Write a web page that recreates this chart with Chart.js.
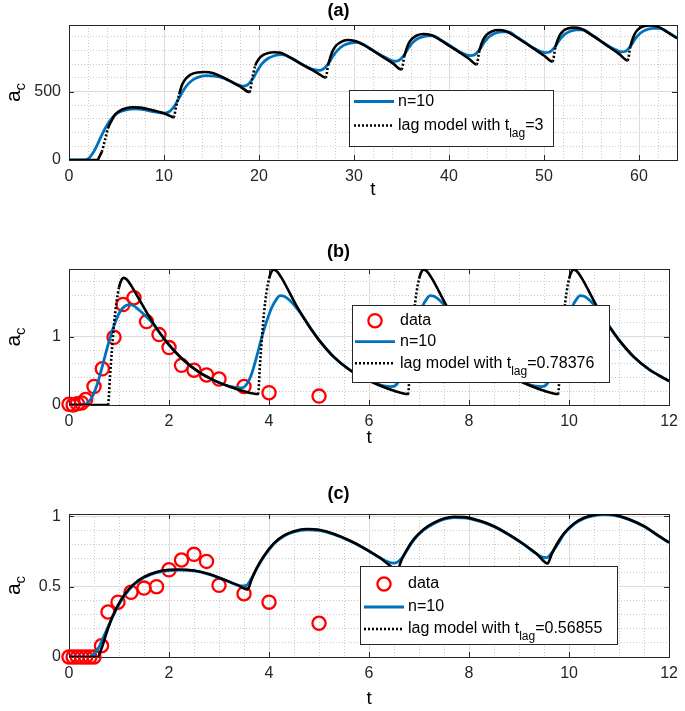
<!DOCTYPE html>
<html><head><meta charset="utf-8">
<script src="https://cdn.jsdelivr.net/npm/chart.js@4/dist/chart.umd.min.js"></script>
<style>
body{margin:0;background:#fff;}
#wrap{position:relative;width:685px;height:711px;overflow:hidden;background:#fff;}
canvas{position:absolute;left:0;}
</style></head><body>
<div id="wrap">
<canvas id="ca" width="685" height="202" style="top:0px"></canvas>
<canvas id="cb" width="685" height="210" style="top:241px"></canvas>
<canvas id="cc" width="685" height="228" style="top:483px"></canvas>
</div>
<script>
// ---------- Panel (a) ----------
const xTicksA = [0, 10, 20, 30, 40, 50, 60];
const yTicksA = [0, 500];
const tA_lag = [
 0, 3.0, 3.2, 3.45, 3.8, 4.1, 4.5, 4.8, 5.3, 6.0, 6.7, 7.5, 8.5, 9.5, 10.3, 11.0,
 11.3, 11.6, 11.9, 12.3, 12.8, 13.5, 14.3, 15.2, 16.2, 17.2, 18.1, 19.0,
 19.3, 19.6, 20.0, 20.5, 21.0, 21.6, 22.3, 23.3, 24.3, 25.3, 26.2, 27.0,
 27.3, 27.7, 28.1, 28.6, 29.3, 30.1, 31.1, 32.1, 33.1, 34.1, 35.0,
 35.3, 35.7, 36.1, 36.6, 37.3, 38.1, 39.1, 40.1, 41.1, 42.1, 42.9,
 43.2, 43.6, 44.0, 44.5, 45.2, 46.0, 47.0, 48.0, 49.0, 50.0, 50.9,
 51.2, 51.6, 52.0, 52.5, 53.1, 53.9, 54.9, 55.9, 56.9, 57.9, 58.8,
 59.1, 59.5, 59.9, 60.5, 61.2, 62.0, 63.0, 64.0];
const aA_lag = [
 0, 0, 25, 60, 150, 230, 290, 329, 358, 378, 386, 383, 370, 351, 333, 312,
 400, 480, 550, 595, 625, 640, 643, 634, 604, 568, 533, 497,
 600, 690, 740, 770, 783, 788, 784, 748, 708, 669, 634, 602,
 700, 790, 835, 862, 877, 870, 838, 795, 751, 706, 662,
 760, 845, 885, 910, 921, 914, 876, 832, 787, 740, 698,
 800, 880, 918, 940, 950, 942, 902, 857, 811, 764, 720,
 825, 905, 942, 962, 968, 960, 918, 872, 824, 776, 728,
 832, 915, 955, 978, 984, 975, 934, 890];
const tA_n10 = [
 0, 1.5, 2.0, 2.5, 3.0, 3.5, 4.0, 4.5, 5.0, 5.6, 6.3, 7.0, 8.0, 9.0, 9.6, 10.1,
 10.6, 11.1, 11.6, 12.1, 12.6, 13.2, 13.8, 14.5, 15.3, 16.2, 17.2, 17.8, 18.3,
 18.8, 19.3, 19.8, 20.3, 20.9, 21.6, 22.4, 23.3, 24.3, 25.3, 25.8, 26.3,
 26.8, 27.3, 27.8, 28.3, 28.9, 29.6, 30.4, 31.1, 32.1, 33.1, 33.7, 34.2,
 34.7, 35.2, 35.7, 36.2, 36.8, 37.5, 38.3, 39.1, 40.1, 41.1, 41.7, 42.2,
 42.7, 43.2, 43.7, 44.2, 44.8, 45.5, 46.3, 47.0, 48.0, 49.0, 49.6, 50.1,
 50.6, 51.1, 51.6, 52.1, 52.7, 53.4, 54.2, 54.9, 55.9, 56.9, 57.6, 58.1,
 58.6, 59.1, 59.6, 60.1, 60.7, 61.4, 62.2, 63.0, 64.0];
const aA_n10 = [
 0, 0, 8, 50, 115, 190, 255, 305, 338, 358, 370, 374, 366, 352, 345, 342,
 355, 395, 455, 515, 560, 593, 610, 617, 613, 600, 568, 550, 540,
 550, 590, 650, 703, 740, 762, 770, 750, 708, 672, 660, 655,
 667, 705, 760, 805, 838, 855, 860, 840, 797, 756, 735, 722,
 728, 760, 815, 860, 890, 906, 910, 880, 835, 792, 772, 763,
 770, 805, 860, 900, 925, 936, 937, 906, 860, 815, 795, 785,
 790, 822, 875, 915, 940, 952, 952, 921, 875, 828, 805, 790,
 795, 832, 885, 925, 950, 962, 962, 936, 892];

// ---------- Panel (b) ----------
const xTicksB = [0, 2, 4, 6, 8, 10, 12];
const yTicksB = [0, 1];
const tB_data = [0, 0.083, 0.167, 0.25, 0.333, 0.5, 0.667, 0.9, 1.08, 1.3, 1.55, 1.8, 2.0, 2.25, 2.5, 2.75, 3.0, 3.5, 4.0, 5.0];
const aB_data = [0.01, 0.0, 0.02, 0.03, 0.08, 0.27, 0.53, 0.99, 1.47, 1.57, 1.22, 1.03, 0.84, 0.58, 0.51, 0.44, 0.38, 0.27, 0.18, 0.13];
const tB_n10 = [
 0, 0.25, 0.35, 0.45, 0.55, 0.65, 0.75, 0.85, 0.95, 1.05, 1.15, 1.22, 1.3, 1.4, 1.55, 1.7, 1.85, 2.0, 2.3, 2.6, 2.9, 3.1, 3.3, 3.45,
 3.55, 3.65, 3.75, 3.85, 3.95, 4.05, 4.15, 4.22, 4.3, 4.4, 4.55, 4.7, 4.85, 5.0, 5.3, 5.6, 5.9, 6.1, 6.3, 6.45,
 6.55, 6.65, 6.75, 6.85, 6.95, 7.05, 7.15, 7.22, 7.3, 7.4, 7.55, 7.7, 7.85, 8.0, 8.3, 8.6, 8.9, 9.1, 9.3, 9.45,
 9.55, 9.65, 9.75, 9.85, 9.95, 10.05, 10.15, 10.22, 10.3, 10.4, 10.55, 10.7, 10.85, 11.0, 11.3, 11.6, 11.9, 12.0];
const aB_n10 = [
 0, 0, 0.02, 0.1, 0.27, 0.52, 0.8, 1.05, 1.26, 1.4, 1.46, 1.47, 1.45, 1.39, 1.29, 1.17, 1.02, 0.88, 0.65, 0.48, 0.36, 0.3, 0.26, 0.25,
 0.3, 0.45, 0.7, 0.98, 1.22, 1.42, 1.55, 1.6, 1.59, 1.54, 1.42, 1.27, 1.1, 0.95, 0.70, 0.52, 0.39, 0.33, 0.28, 0.27,
 0.3, 0.45, 0.7, 0.98, 1.22, 1.42, 1.55, 1.6, 1.59, 1.54, 1.42, 1.27, 1.1, 0.95, 0.70, 0.52, 0.39, 0.33, 0.28, 0.27,
 0.3, 0.45, 0.7, 0.98, 1.22, 1.42, 1.55, 1.6, 1.59, 1.54, 1.42, 1.27, 1.1, 0.95, 0.70, 0.52, 0.39, 0.35];
const tB_lag = [
 0, 0.78, 0.82, 0.86, 0.9, 0.95, 1.0, 1.05, 1.09, 1.15, 1.25, 1.4, 1.55, 1.7, 1.85, 2.0, 2.3, 2.6, 2.9, 3.2, 3.5, 3.78,
 3.82, 3.86, 3.9, 3.95, 4.0, 4.05, 4.09, 4.15, 4.25, 4.4, 4.55, 4.7, 4.85, 5.0, 5.3, 5.6, 5.9, 6.2, 6.5, 6.78,
 6.82, 6.86, 6.9, 6.95, 7.0, 7.05, 7.09, 7.15, 7.25, 7.4, 7.55, 7.7, 7.85, 8.0, 8.3, 8.6, 8.9, 9.2, 9.5, 9.78,
 9.82, 9.86, 9.9, 9.95, 10.0, 10.05, 10.09, 10.15, 10.25, 10.4, 10.55, 10.7, 10.85, 11.0, 11.3, 11.6, 11.9, 12.0];
const aB_lag = [
 0, 0, 0.42, 0.82, 1.18, 1.5, 1.72, 1.83, 1.86, 1.84, 1.74, 1.55, 1.36, 1.18, 1.02, 0.88, 0.65, 0.48, 0.36, 0.27, 0.2, 0.16,
 0.6, 1.0, 1.35, 1.65, 1.85, 1.95, 1.98, 1.96, 1.86, 1.66, 1.45, 1.27, 1.1, 0.95, 0.70, 0.52, 0.39, 0.29, 0.21, 0.16,
 0.6, 1.0, 1.35, 1.65, 1.85, 1.95, 1.98, 1.96, 1.86, 1.66, 1.45, 1.27, 1.1, 0.95, 0.70, 0.52, 0.39, 0.29, 0.21, 0.16,
 0.6, 1.0, 1.35, 1.65, 1.85, 1.95, 1.98, 1.96, 1.86, 1.66, 1.45, 1.27, 1.1, 0.95, 0.70, 0.52, 0.39, 0.35];

// ---------- Panel (c) ----------
const xTicksC = [0, 2, 4, 6, 8, 10, 12];
const yTicksC = [0, 0.5, 1];
const tC_data = [0, 0.083, 0.167, 0.25, 0.333, 0.417, 0.5, 0.65, 0.78, 0.98, 1.24, 1.5, 1.75, 2.0, 2.25, 2.5, 2.75, 3.0, 3.5, 4.0, 5.0];
const aC_data = [0, 0, 0, 0, 0, 0, 0, 0.08, 0.32, 0.39, 0.46, 0.49, 0.5, 0.62, 0.69, 0.73, 0.68, 0.51, 0.45, 0.39, 0.24];
const tC_n10 = [
 0, 0.4, 0.5, 0.6, 0.7, 0.8, 0.95, 1.1, 1.3, 1.5, 1.75, 2.0, 2.2, 2.5, 2.8, 3.1, 3.3, 3.45, 3.55, 3.65, 3.75,
 3.9, 4.1, 4.3, 4.5, 4.75, 5.0, 5.3, 5.6, 5.9, 6.2, 6.35, 6.47, 6.57, 6.67, 6.77,
 6.9, 7.1, 7.3, 7.5, 7.7, 7.9, 8.2, 8.5, 8.8, 9.1, 9.3, 9.45, 9.55, 9.65, 9.77,
 9.9, 10.1, 10.3, 10.5, 10.7, 10.9, 11.2, 11.5, 11.8, 12.0];
const aC_n10 = [
 0, 0, 0.02, 0.07, 0.15, 0.23, 0.34, 0.43, 0.515, 0.565, 0.6, 0.615, 0.618, 0.612, 0.588, 0.55, 0.52, 0.505, 0.51, 0.56, 0.625,
 0.715, 0.805, 0.86, 0.89, 0.905, 0.9, 0.872, 0.828, 0.773, 0.71, 0.68, 0.668, 0.675, 0.71, 0.765,
 0.835, 0.905, 0.95, 0.98, 0.992, 0.99, 0.966, 0.927, 0.868, 0.80, 0.745, 0.712, 0.707, 0.74, 0.80,
 0.875, 0.945, 0.985, 1.005, 1.012, 1.008, 0.977, 0.928, 0.858, 0.813];
const tC_lag = [
 0, 0.57, 0.65, 0.75, 0.85, 0.95, 1.1, 1.3, 1.5, 1.75, 2.0, 2.2, 2.5, 2.8, 3.1, 3.35, 3.57,
 3.65, 3.75, 3.9, 4.1, 4.3, 4.5, 4.75, 5.0, 5.3, 5.6, 5.9, 6.2, 6.57,
 6.65, 6.75, 6.9, 7.1, 7.3, 7.5, 7.7, 7.9, 8.2, 8.5, 8.8, 9.1, 9.35, 9.57,
 9.65, 9.75, 9.9, 10.1, 10.3, 10.5, 10.7, 10.9, 11.2, 11.5, 11.8, 12.0];
const aC_lag = [
 0, 0, 0.06, 0.17, 0.27, 0.35, 0.44, 0.52, 0.57, 0.605, 0.62, 0.622, 0.615, 0.59, 0.55, 0.515, 0.48,
 0.55, 0.63, 0.72, 0.81, 0.865, 0.895, 0.91, 0.905, 0.875, 0.83, 0.775, 0.71, 0.625,
 0.69, 0.76, 0.84, 0.91, 0.955, 0.985, 0.997, 0.995, 0.97, 0.93, 0.87, 0.80, 0.735, 0.665,
 0.73, 0.80, 0.88, 0.95, 0.99, 1.01, 1.017, 1.012, 0.98, 0.93, 0.86, 0.815];

// ---------- helpers ----------
const FONT = '"Liberation Sans", Arial, Helvetica, sans-serif';
const AX = '#262626';
const pts = (ts, as) => ts.map((t, i) => ({x: t, y: as[i]}));

function lagSet(d) {
  return {data: d, borderColor: '#000', borderWidth: 2.6, pointRadius: 0,
    cubicInterpolationMode: 'monotone', order: 0,
    segment: {borderDash: s => ((s.p0.y - s.p1.y) > 3.5 * Math.abs(s.p1.x - s.p0.x)) ? [2, 2] : undefined}};
}
function n10Set(d) {
  return {data: d, borderColor: '#0072bd', borderWidth: 2.8, pointRadius: 0,
    cubicInterpolationMode: 'monotone', order: 1};
}
function dataSet(d) {
  return {data: d, showLine: false, pointRadius: 6.6, pointBorderWidth: 2.3,
    pointBorderColor: '#ff0000', pointBackgroundColor: 'rgba(0,0,0,0)', borderColor: '#ff0000',
    order: 2, clip: false};
}

function drawLegend(ctx, L) {
  ctx.save();
  ctx.fillStyle = '#fff';
  ctx.fillRect(L.x, L.y, L.w, L.h);
  ctx.strokeStyle = AX; ctx.lineWidth = 1;
  ctx.strokeRect(L.x + 0.5, L.y + 0.5, L.w, L.h);
  L.rows.forEach(r => {
    const cy = r.y;
    if (r.kind === 'data') {
      ctx.strokeStyle = '#ff0000'; ctx.lineWidth = 2.3;
      ctx.beginPath(); ctx.arc((L.lx0 + L.lx1) / 2, cy, 6.6, 0, Math.PI * 2); ctx.stroke();
    } else if (r.kind === 'n10') {
      ctx.strokeStyle = '#0072bd'; ctx.lineWidth = 2.8; ctx.setLineDash([]);
      ctx.beginPath(); ctx.moveTo(L.lx0, cy); ctx.lineTo(L.lx1, cy); ctx.stroke();
    } else {
      ctx.strokeStyle = '#000'; ctx.lineWidth = 2.6; ctx.setLineDash([2, 2]);
      ctx.beginPath(); ctx.moveTo(L.lx0, cy); ctx.lineTo(L.lx1, cy); ctx.stroke();
      ctx.setLineDash([]);
    }
    ctx.fillStyle = '#000';
    ctx.textBaseline = 'middle'; ctx.textAlign = 'left';
    ctx.font = '16px ' + FONT;
    let x = L.tx;
    ctx.fillText(r.text, x, cy);
    if (r.sub) {
      x += ctx.measureText(r.text).width;
      ctx.font = '12px ' + FONT;
      ctx.fillText(r.sub, x, cy + 8);
      x += ctx.measureText(r.sub).width;
      ctx.font = '16px ' + FONT;
      ctx.fillText(r.after, x, cy);
    }
  });
  ctx.restore();
}

const decor = {
  id: 'decor',
  beforeDatasetsDraw(chart) {
    const {ctx, chartArea: a, scales} = chart;
    ctx.save();
    ctx.strokeStyle = AX; ctx.lineWidth = 1;
    ctx.strokeRect(Math.round(a.left) + 0.5, Math.round(a.top) + 0.5, Math.round(a.right - a.left), Math.round(a.bottom - a.top));
    const tl = 5;
    ctx.beginPath();
    scales.x.ticks.forEach(t => {
      const px = Math.round(scales.x.getPixelForValue(t.value)) + 0.5;
      ctx.moveTo(px, a.bottom); ctx.lineTo(px, a.bottom - tl);
      ctx.moveTo(px, a.top); ctx.lineTo(px, a.top + tl);
    });
    scales.y.ticks.forEach(t => {
      const py = Math.round(scales.y.getPixelForValue(t.value)) + 0.5;
      ctx.moveTo(a.left, py); ctx.lineTo(a.left + tl, py);
      ctx.moveTo(a.right, py); ctx.lineTo(a.right - tl, py);
    });
    ctx.stroke();
    ctx.restore();
  },
  afterDatasetsDraw(chart) {
    const o = chart.options.plugins.decor;
    const {ctx, chartArea: a} = chart;
    // y-axis label "a" with subscript "c"
    ctx.save();
    ctx.translate(o.ylx, (a.top + a.bottom) / 2);
    ctx.rotate(-Math.PI / 2);
    ctx.fillStyle = '#000';
    ctx.textBaseline = 'alphabetic'; ctx.textAlign = 'left';
    ctx.font = '21px ' + FONT;
    const wa = ctx.measureText('a').width;
    ctx.font = '15px ' + FONT;
    const wc = ctx.measureText('c').width;
    const x0 = -(wa + wc) / 2;
    ctx.font = '21px ' + FONT;
    ctx.fillText('a', x0, 5);
    ctx.font = '15px ' + FONT;
    ctx.fillText('c', x0 + wa, 10);
    ctx.restore();
    drawLegend(ctx, o.legend);
  }
};

function makeChart(id, c) {
  const majorX = c.xTicks[1] - c.xTicks[0];
  const majorY = c.yTicks[1] - c.yTicks[0];
  const minorTicks = (max, step) => {
    const out = [];
    for (let i = 0; i * step <= max + 1e-9; i++) out.push({value: +(i * step).toFixed(6)});
    return out;
  };
  const isMajor = (v, m) => Math.abs(v / m - Math.round(v / m)) < 1e-6;
  new Chart(document.getElementById(id), {
    type: 'line',
    data: {datasets: c.sets},
    plugins: [decor],
    options: {
      responsive: false, animation: false, devicePixelRatio: 1,
      layout: {padding: {top: c.padTop, left: 0, right: 8, bottom: 0}},
      plugins: {
        legend: {display: false}, tooltip: {enabled: false},
        title: {display: true, text: c.title, color: '#000',
          font: {family: FONT, size: 18, weight: 'bold'}, padding: {top: 0, bottom: c.titlePadB}},
        decor: {legend: c.legend, ylx: 15}
      },
      scales: {
        xm: {type: 'linear', position: 'bottom', min: 0, max: c.xMax, display: true,
          afterBuildTicks: s => { s.ticks = minorTicks(c.xMax, c.xMinor); },
          afterFit: s => { s.height = 0; },
          ticks: {display: false}, border: {display: false, dash: [1, 2]},
          grid: {drawTicks: false, lineWidth: 1, color: ctx => isMajor(ctx.tick.value, majorX) ? 'rgba(0,0,0,0)' : '#c8c8c8'}},
        ym: {type: 'linear', position: 'left', min: 0, max: c.yMax, display: true,
          afterBuildTicks: s => { s.ticks = minorTicks(c.yMax, c.yMinor); },
          afterFit: s => { s.width = 0; },
          ticks: {display: false}, border: {display: false, dash: [1, 2]},
          grid: {drawTicks: false, lineWidth: 1, color: ctx => isMajor(ctx.tick.value, majorY) ? 'rgba(0,0,0,0)' : '#c8c8c8'}},
        x: {type: 'linear', position: 'bottom', min: 0, max: c.xMax,
          afterBuildTicks: s => { s.ticks = c.xTicks.map(v => ({value: v})); },
          afterFit: s => { s.height = c.xAxisH; },
          border: {display: false},
          grid: {drawTicks: false, color: '#dcdcdc', lineWidth: 1},
          ticks: {autoSkip: false, maxRotation: 0, padding: 7, color: AX, font: {family: FONT, size: 16},
            callback: v => String(v)},
          title: {display: true, text: 't', color: '#000', font: {family: FONT, size: 19},
            padding: {top: 0, bottom: c.tPadB}}},
        y: {type: 'linear', position: 'left', min: 0, max: c.yMax,
          afterBuildTicks: s => { s.ticks = c.yTicks.map(v => ({value: v})); },
          afterFit: s => { s.width = 69; },
          border: {display: false},
          grid: {drawTicks: false, color: '#dcdcdc', lineWidth: 1},
          ticks: {autoSkip: false, padding: 8, color: AX, font: {family: FONT, size: 16},
            callback: v => String(v)}}
      }
    }
  });
}

makeChart('ca', {
  title: '(a)', xMax: 64, yMax: 987, xTicks: xTicksA, yTicks: yTicksA, xMinor: 2, yMinor: 100,
  padTop: 0, titlePadB: 3.4, xAxisH: 42, tPadB: 1,
  sets: [lagSet(pts(tA_lag, aA_lag)), n10Set(pts(tA_n10, aA_n10))],
  legend: {x: 349, y: 90, w: 204, h: 56, lx0: 354, lx1: 394, tx: 398,
    rows: [{kind: 'n10', text: 'n=10', y: 101.5},
           {kind: 'lag', text: 'lag model with t', sub: 'lag', after: '=3', y: 125.5}]}
});
makeChart('cb', {
  title: '(b)', xMax: 12, yMax: 1.99, xTicks: xTicksB, yTicks: yTicksB, xMinor: 0.5, yMinor: 0.2,
  padTop: 0, titlePadB: 6.4, xAxisH: 46, tPadB: 1.6,
  sets: [lagSet(pts(tB_lag, aB_lag)), n10Set(pts(tB_n10, aB_n10)), dataSet(pts(tB_data, aB_data))],
  legend: {x: 352, y: 305 - 241, w: 257, h: 77, lx0: 355, lx1: 395, tx: 400,
    rows: [{kind: 'data', text: 'data', y: 320.7 - 241},
           {kind: 'n10', text: 'n=10', y: 341.7 - 241},
           {kind: 'lag', text: 'lag model with t', sub: 'lag', after: '=0.78376', y: 363.3 - 241}]}
});
makeChart('cc', {
  title: '(c)', xMax: 12, yMax: 1.017, xTicks: xTicksC, yTicks: yTicksC, xMinor: 0.5, yMinor: 0.1,
  padTop: 0, titlePadB: 9.4, xAxisH: 54, tPadB: 1,
  sets: [lagSet(pts(tC_lag, aC_lag)), n10Set(pts(tC_n10, aC_n10)), dataSet(pts(tC_data, aC_data))],
  legend: {x: 360, y: 566 - 483, w: 257, h: 78, lx0: 364, lx1: 404, tx: 408,
    rows: [{kind: 'data', text: 'data', y: 584 - 483},
           {kind: 'n10', text: 'n=10', y: 607 - 483},
           {kind: 'lag', text: 'lag model with t', sub: 'lag', after: '=0.56855', y: 629 - 483}]}
});
</script>
</body></html>
